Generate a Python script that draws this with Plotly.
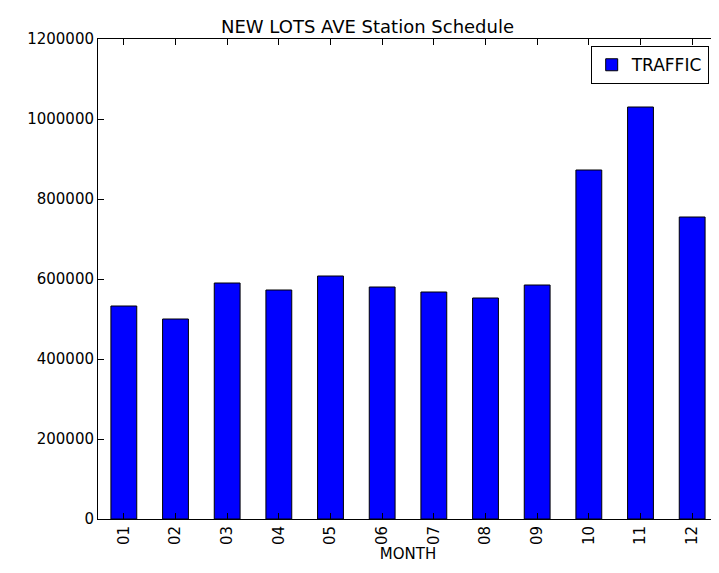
import plotly.graph_objects as go

months = ["01", "02", "03", "04", "05", "06", "07", "08", "09", "10", "11", "12"]
traffic = [532500, 500000, 590000, 572500, 607500, 580000,
           567500, 552500, 585000, 872500, 1030000, 755000]

fig = go.Figure(
    go.Bar(
        x=months, y=traffic, name="TRAFFIC", width=0.5,
        marker=dict(color="#0000ff", line=dict(color="black", width=1)),
        showlegend=True,
    )
)

axis_common = dict(
    showline=True, linecolor="black", linewidth=1, mirror="ticks",
    ticks="inside", ticklen=6, tickcolor="black", showgrid=False,
    tickfont=dict(size=15, color="black"), automargin=False,
)

fig.update_layout(
    width=719, height=573,
    margin=dict(l=90, r=9, t=31, b=62, autoexpand=False),
    paper_bgcolor="white", plot_bgcolor="white",
    font=dict(family="DejaVu Sans", color="black"),
    title=dict(text="NEW LOTS AVE Station Schedule", x=0.5, xanchor="center",
               y=0.968, yanchor="middle", font=dict(size=18)),
    xaxis=dict(axis_common, title=dict(text="MONTH", font=dict(size=15), standoff=2),
               tickangle=-90, range=[-0.5, 11.5]),
    yaxis=dict(axis_common, range=[0, 1200000], dtick=200000, tickformat="d"),
    legend=dict(x=0.985, y=0.985, xanchor="right", yanchor="top",
                bordercolor="black", borderwidth=1, font=dict(size=17)),
    bargap=0.5,
)

fig.write_html("out.html")
